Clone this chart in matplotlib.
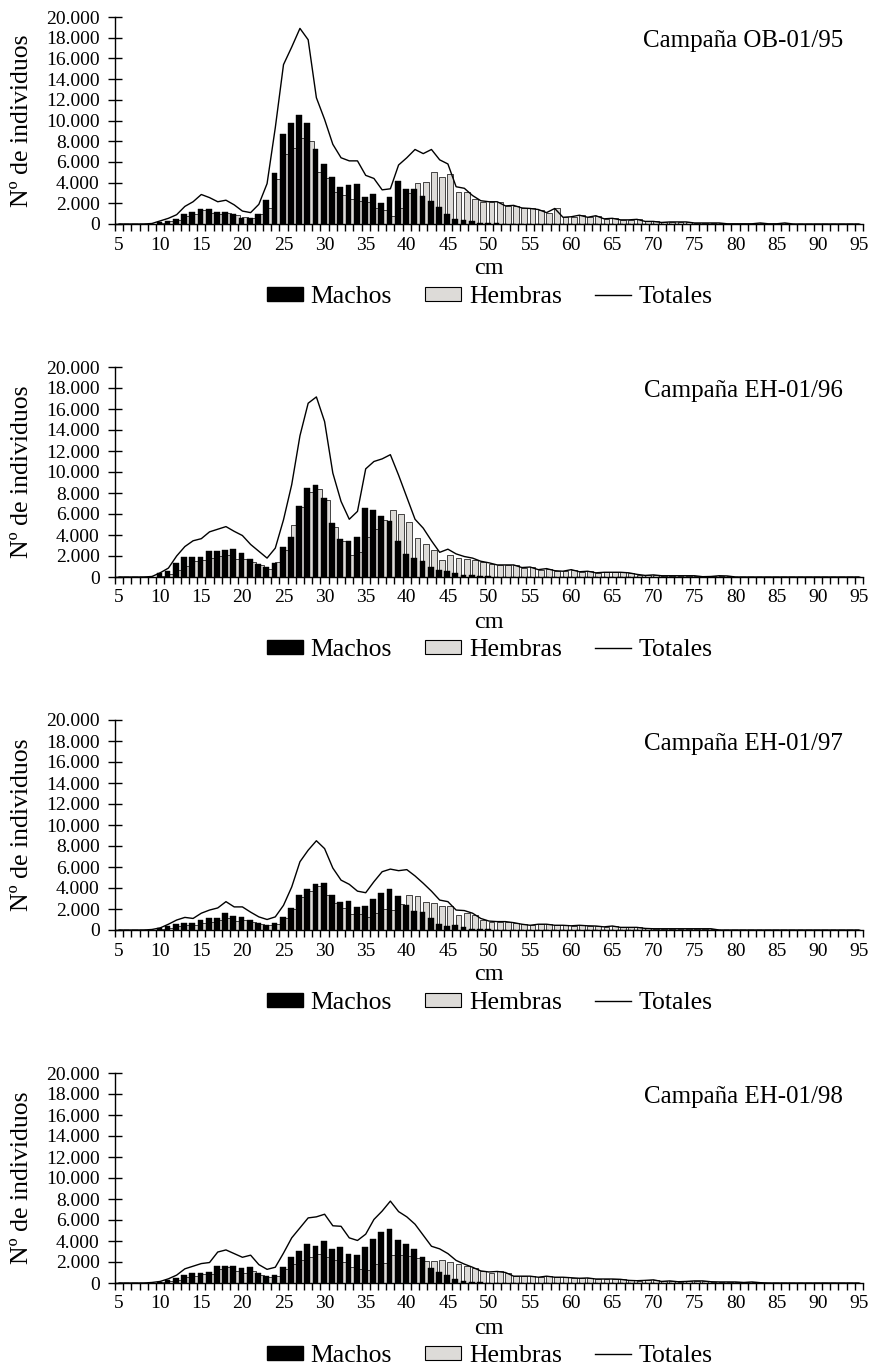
import matplotlib
matplotlib.use("Agg")
import matplotlib.pyplot as plt
from matplotlib.patches import Patch
from matplotlib.lines import Line2D
import numpy as np

plt.rcParams['font.family'] = ['Liberation Serif', 'DejaVu Serif']

# ---------------- DATA ----------------
cm = list(range(5, 96))  # length classes 5..95 cm

titles = ["Campaña OB-01/95", "Campaña EH-01/96", "Campaña EH-01/97", "Campaña EH-01/98"]
yticks = [0, 2000, 4000, 6000, 8000, 10000, 12000, 14000, 16000, 18000, 20000]
xlabels = [5, 10, 15, 20, 25, 30, 35, 40, 45, 50, 55, 60, 65, 70, 75, 80, 85, 90, 95]

machos_95 = [0, 0, 0, 0, 30,
             200, 300, 500, 1000, 1200, 1450, 1450, 1200, 1200, 950,
             600, 550, 950, 2300, 4900, 8700, 9800, 10500, 9800, 7200,
             5800, 4500, 3600, 3750, 3850, 2600, 2900, 2000, 2600, 4150,
             3350, 3350, 2750, 2250, 1650, 950, 500, 400, 250, 120,
             100, 60, 40, 30, 20, 20, 10, 10, 10, 10,
             0, 0, 0, 0, 0, 0, 0, 0, 0, 0,
             0, 0, 0, 0, 0, 0, 0, 0, 0, 0,
             0, 0, 0, 0, 0, 0, 0, 0, 0, 0,
             0, 0, 0, 0, 0, 0]
hembras_95 = [0, 0, 0, 0, 20,
              100, 250, 400, 750, 950, 1400, 1100, 1000, 1100, 900,
              650, 550, 950, 1500, 4300, 6750, 7300, 8300, 8000, 5000,
              4400, 3100, 2850, 2400, 2200, 2100, 1550, 1350, 750, 1500,
              2950, 3950, 4050, 5000, 4550, 4800, 3100, 3050, 2450, 2100,
              2100, 2100, 1700, 1750, 1550, 1500, 1400, 1100, 1500, 650,
              700, 850, 650, 800, 500, 550, 400, 400, 450, 250,
              250, 150, 200, 200, 200, 100, 100, 100, 100, 20,
              20, 20, 20, 100, 20, 20, 100, 0, 0, 0,
              0, 0, 0, 0, 0, 0]
totales_95 = [0, 0, 0, 0, 50,
              300, 550, 900, 1700, 2150, 2850, 2550, 2150, 2300, 1850,
              1250, 1100, 1900, 3900, 9300, 15400, 17100, 18900, 17800, 12200,
              10100, 7700, 6400, 6100, 6100, 4700, 4400, 3300, 3400, 5700,
              6400, 7200, 6800, 7200, 6200, 5800, 3600, 3450, 2750, 2250,
              2150, 2150, 1750, 1800, 1550, 1500, 1400, 1100, 1500, 650,
              700, 850, 650, 800, 500, 550, 400, 400, 450, 250,
              250, 150, 200, 200, 200, 100, 100, 100, 100, 20,
              20, 20, 20, 100, 20, 20, 100, 0, 0, 0,
              0, 0, 0, 0, 0, 0]

machos_96 = [0, 0, 0, 0, 30,
             350, 600, 1300, 1900, 1900, 1900, 2500, 2500, 2600, 2700,
             2250, 1750, 1250, 950, 1350, 2900, 3850, 6800, 8450, 8800,
             7500, 5150, 3650, 3400, 3850, 6550, 6400, 5850, 5300, 3400,
             2200, 1850, 1550, 950, 700, 600, 400, 200, 150, 100,
             50, 30, 20, 20, 10, 10, 0, 0, 0, 0,
             0, 0, 0, 0, 0, 0, 0, 0, 0, 0,
             0, 0, 0, 0, 0, 0, 0, 0, 0, 0,
             0, 0, 0, 0, 0, 0, 0, 0, 0, 0,
             0, 0, 0, 0, 0, 0]
hembras_96 = [0, 0, 0, 0, 20,
              100, 300, 700, 1050, 1500, 1650, 1800, 2000, 2100, 1700,
              1750, 1400, 1150, 800, 1400, 2600, 5000, 6700, 8100, 8400,
              7300, 4800, 3400, 2100, 2400, 3800, 4600, 5450, 6400, 6000,
              5250, 3700, 3150, 2550, 1650, 2100, 1850, 1750, 1650, 1400,
              1250, 1100, 1150, 1150, 850, 950, 650, 800, 600, 550,
              700, 500, 550, 400, 450, 450, 450, 400, 200, 150,
              200, 120, 120, 120, 120, 120, 30, 50, 120, 100,
              0, 0, 0, 0, 0, 0, 0, 0, 0, 0,
              0, 0, 0, 0, 0, 0]
totales_96 = [0, 0, 0, 0, 50,
              400, 850, 2000, 2900, 3450, 3650, 4300, 4550, 4800, 4350,
              3950, 3100, 2450, 1800, 2750, 5450, 8800, 13450, 16550, 17150,
              14800, 9900, 7200, 5500, 6250, 10300, 11000, 11250, 11650, 9700,
              7600, 5500, 4650, 3450, 2350, 2650, 2200, 1950, 1800, 1500,
              1350, 1150, 1150, 1150, 900, 950, 700, 800, 600, 550,
              700, 500, 550, 400, 450, 450, 450, 400, 250, 150,
              200, 120, 120, 120, 120, 120, 30, 50, 120, 100,
              0, 0, 0, 0, 0, 0, 0, 0, 0, 0,
              0, 0, 0, 0, 0, 0]

machos_97 = [0, 0, 0, 0, 30,
             150, 400, 600, 700, 650, 950, 1100, 1100, 1600, 1300,
             1250, 950, 650, 500, 650, 1250, 2100, 3350, 3900, 4350,
             4450, 3300, 2700, 2800, 2150, 2300, 2950, 3550, 3900, 3200,
             2400, 1800, 1700, 1100, 550, 400, 450, 250, 100, 80,
             50, 30, 20, 10, 10, 0, 0, 0, 0, 0,
             0, 0, 0, 0, 0, 0, 0, 0, 0, 0,
             0, 0, 0, 0, 0, 0, 0, 0, 0, 0,
             0, 0, 0, 0, 0, 0, 0, 0, 0, 0,
             0, 0, 0, 0, 0, 0]
hembras_97 = [0, 0, 0, 0, 20,
              50, 200, 350, 500, 450, 650, 800, 1000, 1150, 900,
              950, 750, 550, 450, 600, 1100, 2000, 3150, 3700, 4150,
              3300, 2600, 2050, 1550, 1550, 1250, 1650, 2000, 1900, 2450,
              3350, 3200, 2650, 2550, 2300, 2300, 1400, 1600, 1450, 950,
              800, 800, 800, 700, 550, 450, 550, 550, 450, 450,
              400, 450, 400, 380, 300, 380, 250, 250, 250, 150,
              120, 120, 120, 120, 120, 120, 120, 120, 0, 0,
              0, 0, 0, 0, 0, 0, 0, 0, 0, 0,
              0, 0, 0, 0, 0, 0]
totales_97 = [0, 0, 0, 0, 50,
              200, 550, 950, 1200, 1100, 1600, 1900, 2100, 2700, 2200,
              2200, 1700, 1250, 1000, 1250, 2350, 4100, 6500, 7600, 8500,
              7750, 5900, 4750, 4350, 3700, 3550, 4600, 5550, 5800, 5650,
              5750, 5150, 4450, 3700, 2850, 2700, 1900, 1850, 1600, 1100,
              850, 800, 800, 700, 550, 450, 550, 550, 450, 450,
              400, 450, 400, 380, 300, 380, 250, 250, 250, 150,
              120, 120, 120, 120, 120, 120, 120, 120, 0, 0,
              0, 0, 0, 0, 0, 0, 0, 0, 0, 0,
              0, 0, 0, 0, 0, 0]

machos_98 = [0, 0, 0, 0, 30,
             100, 250, 500, 800, 950, 950, 1050, 1650, 1650, 1650,
             1450, 1500, 950, 700, 800, 1500, 2500, 3050, 3750, 3500,
             4000, 3250, 3400, 2800, 2700, 3400, 4200, 4900, 5150, 4100,
             3750, 3250, 2500, 1450, 1050, 800, 350, 200, 100, 50,
             30, 20, 20, 10, 10, 10, 0, 0, 0, 0,
             0, 0, 0, 0, 0, 0, 0, 0, 0, 0,
             0, 0, 0, 0, 0, 0, 0, 0, 0, 0,
             0, 0, 0, 0, 0, 0, 0, 0, 0, 0,
             0, 0, 0, 0, 0, 0]
hembras_98 = [0, 0, 0, 0, 20,
              50, 150, 250, 550, 650, 850, 900, 1300, 1500, 1150,
              1000, 1150, 800, 600, 700, 1350, 1800, 2200, 2450, 2800,
              2500, 2200, 2000, 1500, 1350, 1250, 1850, 1950, 2650, 2700,
              2550, 2350, 2050, 2050, 2200, 2000, 1800, 1600, 1400, 1100,
              1000, 1100, 1000, 650, 650, 650, 550, 650, 550, 550,
              500, 450, 480, 380, 380, 380, 350, 250, 220, 250,
              300, 150, 200, 120, 150, 200, 200, 120, 100, 100,
              100, 50, 100, 30, 0, 0, 0, 0, 0, 0,
              0, 0, 0, 0, 0, 0]
totales_98 = [0, 0, 0, 0, 50,
              150, 400, 750, 1350, 1600, 1850, 1950, 2950, 3150, 2800,
              2450, 2650, 1750, 1300, 1500, 2850, 4300, 5250, 6200, 6300,
              6550, 5450, 5400, 4300, 4050, 4650, 6050, 6850, 7800, 6800,
              6300, 5600, 4550, 3500, 3250, 2800, 2150, 1800, 1500, 1150,
              1050, 1100, 1000, 650, 650, 650, 550, 650, 550, 550,
              500, 450, 480, 380, 380, 380, 350, 250, 220, 250,
              300, 150, 200, 120, 150, 200, 200, 120, 100, 100,
              100, 50, 100, 30, 0, 0, 0, 0, 0, 0,
              0, 0, 0, 0, 0, 0]

machos = [machos_95, machos_96, machos_97, machos_98]
hembras = [hembras_95, hembras_96, hembras_97, hembras_98]
totales = [totales_95, totales_96, totales_97, totales_98]

# ---------------- LAYOUT ----------------
W, H = 873, 1368
fig = plt.figure(figsize=(W / 100, H / 100), dpi=100)
tops = [17, 367, 720, 1073]
bottoms = [224, 577, 930, 1283]
left_px, right_px = 115, 863
GRAY = '#DDDBD8'

x = np.array(cm)
for i in range(4):
    top, bot = tops[i], bottoms[i]
    ax = fig.add_axes([left_px / W, 1 - bot / H, (right_px - left_px) / W, (bot - top) / H])
    ax.bar(x + 0.30, hembras[i], width=0.7, color=GRAY, edgecolor='black', linewidth=0.5, zorder=2)
    ax.bar(x - 0.10, machos[i], width=0.7, color='black', edgecolor='black', linewidth=0.3, zorder=3)
    ax.plot(x, totales[i], color='black', linewidth=1.0, zorder=4)

    ax.set_xlim(4.5, 95.5)
    ax.set_ylim(0, 20000)
    for s in ['top', 'right']:
        ax.spines[s].set_visible(False)
    ax.spines['left'].set_linewidth(1.0)
    ax.spines['bottom'].set_linewidth(1.0)

    ax.set_yticks(yticks)
    ax.set_yticklabels([f"{v:,}".replace(',', '.') for v in yticks])
    ax.tick_params(axis='y', direction='inout', length=10, width=1, labelsize=14, pad=6)

    ax.set_xticks(xlabels)
    ax.set_xticklabels([str(v) for v in xlabels])
    ax.set_xticks(np.arange(4.5, 96.0, 1.0), minor=True)
    ax.tick_params(axis='x', which='major', length=0, labelsize=14, pad=9)
    ax.tick_params(axis='x', which='minor', direction='out', length=5, width=1)

    fig.text(22 / W, 1 - ((top + bot) / 2) / H, 'Nº de individuos', rotation=90,
             ha='center', va='center', fontsize=18.5)
    fig.text(843 / W, 1 - (top + 24) / H, titles[i], ha='right', va='center', fontsize=18)
    fig.text(489 / W, 1 - (bot + 45) / H, 'cm', ha='center', va='center', fontsize=17.5)

    handles = [Patch(facecolor='black', edgecolor='black'),
               Patch(facecolor=GRAY, edgecolor='black', linewidth=0.8),
               Line2D([0], [0], color='black', linewidth=1.0)]
    ax.legend(handles, ['Machos', 'Hembras', 'Totales'], loc='center',
              bbox_to_anchor=(490 / W, 1 - (bot + 73) / H), bbox_transform=fig.transFigure,
              ncol=3, frameon=False, fontsize=18.5, handlelength=1.4, handleheight=0.45,
              handletextpad=0.3, columnspacing=1.3, borderpad=0)

fig.savefig('out.png', dpi=100)
